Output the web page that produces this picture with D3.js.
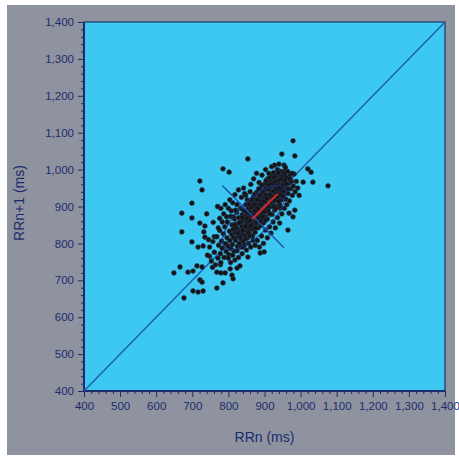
<!DOCTYPE html>
<html>
<head>
<meta charset="utf-8">
<script src="https://cdn.jsdelivr.net/npm/d3@7"></script>
<style>
  html, body { margin: 0; padding: 0; background: #ffffff; }
  svg { display: block; }
</style>
</head>
<body>
<svg id="chart" width="459" height="459"></svg>
<script>
// Poincaré plot of successive RR intervals (ms)
const xTicks = [400, 500, 600, 700, 800, 900, 1000, 1100, 1200, 1300, 1400];
const yTicks = [400, 500, 600, 700, 800, 900, 1000, 1100, 1200, 1300, 1400];
const xTitle = "RRn (ms)";
const yTitle = "RRn+1 (ms)";

// mean RR, SD1 / SD2 descriptors (ms)
const meanRR = [871, 870];
const sd1 = 45;
const sd2 = 115;
const sd1Axis = [[783, 957], [954, 788]];
const sd2Axis = [[866, 866], [936, 934]];

// [RRn, RRn+1] pairs
const rrPairs = [
  [979,1078],[854,1029],[948,1042],[984,1037],[785,1002],[802,993],[954,1012],[1020,1002],
  [1029,993],[721,969],[727,945],[1007,966],[1034,966],[1076,956],[699,909],[671,882],
  [699,869],[671,831],[699,804],[716,790],[730,793],[721,855],[735,847],[732,831],
  [735,817],[984,890],[979,872],[965,836],[666,736],[649,720],[688,722],[702,725],
  [713,739],[727,736],[721,701],[727,695],[702,671],[716,668],[730,671],[677,652],
  [768,722],[779,720],[791,720],[785,693],[810,714],[813,704],[824,733],[832,739],
  [768,679],[854,763],[888,774],[899,777],[954,995],[954,980],[958,1006],[740,880],
  [745,810],[761,818],[758,857],[770,900],[778,742],[756,735],[805,731],[748,765],
  [742,768],[748,790],[753,752],[757,805],[761,776],[764,742],[768,818],[771,760],
  [773,795],[776,835],[778,772],[779,748],
  [781,806],[783,787],[786,826],[788,762],[790,845],[792,799],[794,778],[796,815],
  [797,858],[799,792],[801,770],[803,833],[804,808],[806,873],[807,786],[809,824],[810,850],
  [811,797],[813,838],[814,816],[816,779],[817,866],[819,829],[820,808],[822,852],
  [823,884],[825,792],[826,838],[827,818],[829,870],[830,800],[831,855],[833,832],
  [834,895],[835,812],[837,846],[838,877],[839,825],[840,862],
  [841,804],[842,889],[844,840],[845,866],[846,822],[848,905],[849,852],[850,835],
  [851,878],[853,815],[854,860],[855,895],[856,843],[858,872],[859,826],[860,912],
  [861,853],[862,886],[864,838],[865,868],[866,902],[867,820],[868,856],[869,925],
  [870,880],[871,843],
  [872,896],[873,862],[874,830],[875,915],[876,875],[877,852],[878,938],[879,890],
  [880,868],[881,906],[882,842],[883,880],[884,925],[885,858],[886,898],[887,948],
  [888,873],[889,915],[890,848],[891,888],[892,932],[893,866],[894,905],[895,958],
  [896,880],[897,922],[898,856],[899,942],[900,895],
  [901,915],[902,872],[903,962],[904,932],[905,888],[906,950],[907,908],[908,866],
  [909,975],[910,925],[911,895],[912,945],[913,880],[914,968],[915,912],[916,935],
  [917,985],[918,900],[919,955],[920,922],[921,878],[922,972],[923,940],[924,905],
  [925,992],[926,958],[927,928],[928,890],[929,975],[930,945],
  [931,915],[932,985],[933,960],[934,935],[935,900],[936,1000],[937,970],[938,945],
  [939,922],[940,988],[941,958],[942,905],[943,978],[944,935],[945,995],[946,955],
  [947,918],[948,982],[949,942],[950,968],[951,925],[952,990],[953,950],[955,972],
  [956,935],[957,985],[958,958],[959,920],[960,945],
  [962,978],[964,995],[965,935],[967,962],[969,915],[971,985],[973,948],[975,968],
  [977,930],[980,955],[982,988],[985,940],[988,968],[992,950],[996,930],
  [772,842],[776,868],[779,895],[783,858],[787,880],[791,905],[795,872],[800,895],
  [804,918],[808,888],[812,910],[818,932],[824,905],[828,945],[836,925],[842,950],[848,930],
  [880,808],[886,790],[892,820],[897,800],[903,836],[908,815],[914,845],[918,828],
  [924,858],[930,842],[936,870],[942,855],[948,880],[955,895],[962,905],[968,882],
  [800,760],[806,748],[812,768],[818,755],[824,780],[828,762],[834,790],[838,772],
  [844,795],[850,782],[856,800],[862,790],[868,808],[874,795],
  [862,960],[870,975],[878,990],[885,965],[893,985],[903,1000],[912,990],[920,1008],
  [928,1012],[940,1015],[860,940],[852,918],[845,935],
  // dense core
  [826,828],[832,818],[836,858],[840,836],[843,872],[847,846],[852,868],[855,830],
  [857,884],[860,862],[863,898],[866,876],[868,840],[871,906],[874,888],[876,860],
  [879,918],[882,896],[884,870],[887,930],[890,906],[892,878],[895,940],[898,914],
  [900,886],[903,948],[906,922],[909,902],[912,958],[915,932],[918,912],[921,962],
  [924,942],[927,918],[930,968],[933,948],[936,926],[939,972],[942,952],[945,932],
  [948,975],[951,958],[954,940],[957,970],[938,992],[926,980],[914,978],[904,970],
  [892,958],[884,948],[872,932],[864,918],[856,906],[846,888],[838,870],[830,856],
  [822,842],[816,850],[814,872],[820,890],[862,848],[878,858],[894,872],[910,888],
  [926,900],[940,914],[952,928],[966,948],[858,820],[848,812],[840,790],[876,842],
  [889,858],[902,862],[916,880],[931,894],[944,896],[960,962],[970,975],[976,990]
];

const svg = d3.select("#chart");
const navy = "#1b2c6e";
const font = "Liberation Sans, Arial, sans-serif";

// outer panel
svg.append("rect").attr("x", 7).attr("y", 5).attr("width", 448).attr("height", 450)
  .attr("fill", "#8f939f");

const plot = { left: 84, right: 445, top: 22, bottom: 391 };

const x = d3.scaleLinear().domain([400, 1400]).range([plot.left, plot.right]);
const y = d3.scaleLinear().domain([400, 1400]).range([plot.bottom, plot.top]);

// plot area
svg.append("rect")
  .attr("x", plot.left).attr("y", plot.top)
  .attr("width", plot.right - plot.left).attr("height", plot.bottom - plot.top)
  .attr("fill", "#3cc8f0")
  .attr("stroke", "#0e2150").attr("stroke-width", 1);

// minor ticks every 20 ms
const minor = d3.range(400, 1401, 20).filter(v => v % 100 !== 0);
const fmt = d3.format(",");

const xAxis = svg.append("g").attr("transform", `translate(0,${plot.bottom})`);
xAxis.call(d3.axisBottom(x).tickValues(minor).tickSize(3).tickFormat(""));
xAxis.call(g => g.select(".domain").remove());
const xMajor = svg.append("g").attr("transform", `translate(0,${plot.bottom})`)
  .call(d3.axisBottom(x).tickValues(xTicks).tickSize(6).tickPadding(5).tickFormat(fmt));

const yAxis = svg.append("g").attr("transform", `translate(${plot.left},0)`);
yAxis.call(d3.axisLeft(y).tickValues(minor).tickSize(3).tickFormat(""));
yAxis.call(g => g.select(".domain").remove());
const yMajor = svg.append("g").attr("transform", `translate(${plot.left},0)`)
  .call(d3.axisLeft(y).tickValues(yTicks).tickSize(6).tickPadding(4).tickFormat(fmt));

svg.selectAll(".tick line").attr("stroke", navy).attr("stroke-width", 1);
[xMajor, yMajor].forEach(g => {
  g.select(".domain").attr("stroke", navy).attr("stroke-width", 2);
  g.selectAll("text")
    .attr("fill", navy)
    .style("font-family", font)
    .style("font-size", "11.5px");
});
xMajor.select(".domain").attr("d", `M${plot.left},0H${plot.right}`);
yMajor.select(".domain").attr("d", `M0,${plot.top}V${plot.bottom}`);

// identity line
svg.append("line")
  .attr("x1", x(400)).attr("y1", y(400))
  .attr("x2", x(1400)).attr("y2", y(1400))
  .attr("stroke", "#1d5cae").attr("stroke-width", 1.4);

// RR pairs
svg.append("g").selectAll("circle").data(rrPairs).join("circle")
  .attr("cx", d => x(d[0])).attr("cy", d => y(d[1]))
  .attr("r", 2.4)
  .attr("fill", "#141414")
  .attr("stroke", "#2b3550").attr("stroke-width", 0.6);

// SD1/SD2 ellipse
const ellipse = d3.range(0, 361, 4).map(a => {
  const t = a * Math.PI / 180;
  const u = sd2 * Math.cos(t), v = sd1 * Math.sin(t);
  return [meanRR[0] + (u - v) / Math.SQRT2, meanRR[1] + (u + v) / Math.SQRT2];
});
svg.append("path")
  .attr("d", d3.line().x(d => x(d[0])).y(d => y(d[1]))(ellipse))
  .attr("fill", "none").attr("stroke", "#1a2f8a").attr("stroke-width", 1.2)
  .attr("stroke-opacity", 0.8);

// SD1 axis
svg.append("line")
  .attr("x1", x(sd1Axis[0][0])).attr("y1", y(sd1Axis[0][1]))
  .attr("x2", x(sd1Axis[1][0])).attr("y2", y(sd1Axis[1][1]))
  .attr("stroke", "#1d4fb0").attr("stroke-width", 1.4);

// SD2 axis
svg.append("line")
  .attr("x1", x(sd2Axis[0][0])).attr("y1", y(sd2Axis[0][1]))
  .attr("x2", x(sd2Axis[1][0])).attr("y2", y(sd2Axis[1][1]))
  .attr("stroke", "#d82a2a").attr("stroke-width", 2);

// axis titles
svg.append("text")
  .attr("x", (plot.left + plot.right) / 2).attr("y", 442)
  .attr("text-anchor", "middle").attr("fill", navy)
  .style("font-family", font).style("font-size", "14px")
  .text(xTitle);

svg.append("text")
  .attr("transform", `translate(24,203) rotate(-90)`)
  .attr("text-anchor", "middle").attr("fill", navy)
  .style("font-family", font).style("font-size", "14px")
  .text(yTitle);
</script>
</body>
</html>
